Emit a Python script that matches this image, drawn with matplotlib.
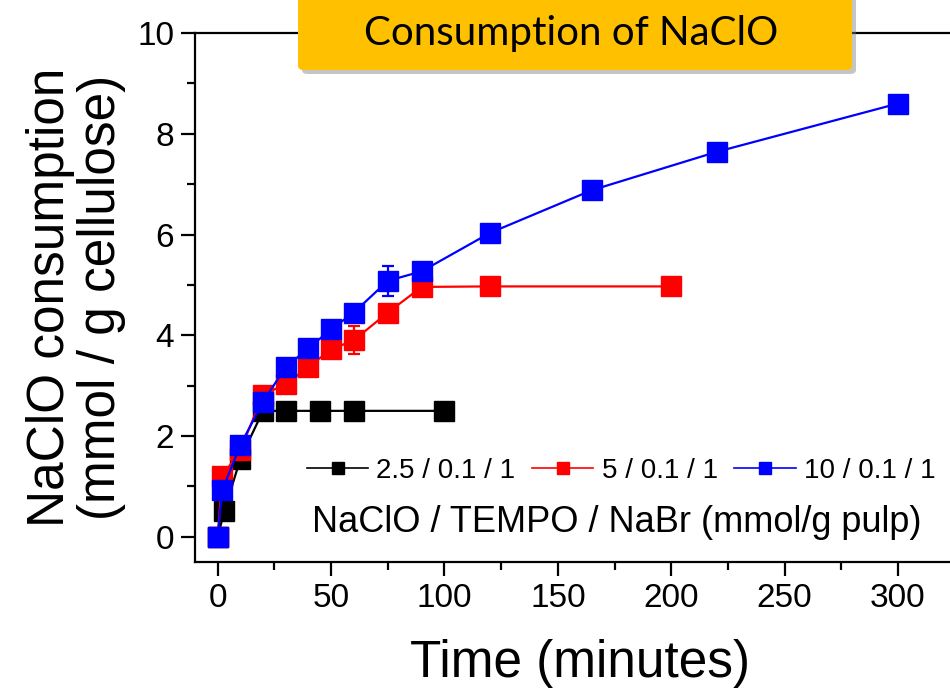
import matplotlib
matplotlib.use("Agg")
import matplotlib.pyplot as plt
from matplotlib.lines import Line2D
from matplotlib.patches import FancyBboxPatch
from matplotlib.ticker import MultipleLocator

plt.rcParams["font.family"] = ["Liberation Sans", "DejaVu Sans"]

# ── Data: NaClO consumption (mmol / g cellulose) vs time (min) ────────────
t_25 = [0, 3, 10, 20, 30, 45, 60, 100]
y_25 = [0, 0.52, 1.55, 2.5, 2.5, 2.5, 2.5, 2.5]
e_25 = [0.03, 0.1, 0.08, 0.06, 0.05, 0.05, 0.05, 0.05]

t_5 = [0, 2, 10, 20, 30, 40, 50, 60, 75, 90, 120, 200]
y_5 = [0, 1.2, 1.72, 2.82, 3.03, 3.37, 3.72, 3.9, 4.45, 4.96, 4.97, 4.97]
e_5 = [0.03, 0.1, 0.1, 0.1, 0.08, 0.08, 0.1, 0.28, 0.08, 0.08, 0.06, 0.05]

t_10 = [0, 2, 10, 20, 30, 40, 50, 60, 75, 90, 120, 165, 220, 300]
y_10 = [0, 0.92, 1.82, 2.68, 3.37, 3.74, 4.12, 4.45, 5.08, 5.27, 6.03, 6.88, 7.64, 8.6]
e_10 = [0.03, 0.08, 0.08, 0.1, 0.1, 0.1, 0.1, 0.12, 0.3, 0.1, 0.16, 0.12, 0.16, 0.1]

labels = ["2.5 / 0.1 / 1", "5 / 0.1 / 1", "10 / 0.1 / 1"]
colors = ["black", "red", "blue"]

# ── Figure ────────────────────────────────────────────────────────────────
fig = plt.figure(figsize=(9.5, 6.93), dpi=100)
# axes run past the right edge of the canvas
ax = fig.add_axes([195 / 950, 131 / 693, 771 / 950, 529 / 693])
ax.set_xlim(-10, 330)
ax.set_ylim(-0.5, 10)

series = [(t_25, y_25, e_25), (t_5, y_5, e_5), (t_10, y_10, e_10)]
for (t, y, e), c, z in zip(series, colors, [3, 4, 5]):
    ax.errorbar(t, y, yerr=e, color=c, lw=1.6, marker="s", ms=14.5,
                mec=c, mfc=c, elinewidth=1.6, capsize=4, capthick=1.6,
                zorder=z)

for s in ax.spines.values():
    s.set_linewidth(1.6)
ax.spines["right"].set_visible(False)

ax.xaxis.set_major_locator(MultipleLocator(50))
ax.xaxis.set_minor_locator(MultipleLocator(25))
ax.yaxis.set_major_locator(MultipleLocator(2))
ax.yaxis.set_minor_locator(MultipleLocator(1))
ax.tick_params(which="major", direction="out", length=10, width=1.6,
               labelsize=24, pad=5)
ax.tick_params(which="minor", direction="out", length=5.5, width=1.6)
ax.tick_params(top=False, right=False, which="both")

ax.set_xlabel("Time (minutes)", fontsize=37, labelpad=18)
ax.set_ylabel("NaClO consumption\n(mmol / g cellulose)", fontsize=37,
              labelpad=8, linespacing=1.05)

# ── Legend row + caption ─────────────────────────────────────────────────
handles = [Line2D([], [], color=c, lw=1.2, marker="s", ms=9, mfc=c, mec=c)
           for c in colors]
leg = fig.legend(handles, labels, loc="center left",
                 bbox_to_anchor=(307 / 950, 1 - 471 / 693), ncol=3,
                 frameon=False, fontsize=20, handlelength=2.2,
                 handletextpad=0.3, columnspacing=0.6, borderpad=0,
                 borderaxespad=0)
fig.text(312 / 950, 1 - 522 / 693, "NaClO / TEMPO / NaBr (mmol/g pulp)",
         fontsize=26, ha="left", va="center")

# ── Title badge ──────────────────────────────────────────────────────────
bx, by, bw, bh = 298 / 950, 1 - 70 / 693, 554 / 950, 90 / 693
shadow = FancyBboxPatch((bx + 4 / 950, by - 4 / 693), bw, bh,
                        boxstyle="round,pad=0,rounding_size=0.006",
                        transform=fig.transFigure, facecolor="#7f7f7f",
                        edgecolor="none", alpha=0.45, zorder=10)
badge = FancyBboxPatch((bx, by), bw, bh,
                       boxstyle="round,pad=0,rounding_size=0.006",
                       transform=fig.transFigure, facecolor="#FFC000",
                       edgecolor="none", zorder=11)
fig.add_artist(shadow)
fig.add_artist(badge)
fig.text(571 / 950, 1 - 33 / 693, "Consumption of NaClO",
         family=["Lato", "DejaVu Sans"], fontsize=29, ha="center",
         va="center", zorder=12)

fig.savefig("out.png", dpi=100)
